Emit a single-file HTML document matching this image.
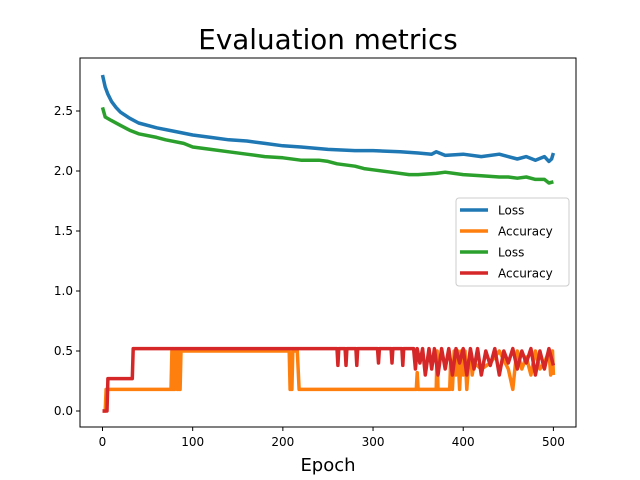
<!DOCTYPE html>
<html><head><meta charset="utf-8"><style>
body{margin:0;background:#fff}
svg{display:block;font-family:"DejaVu Sans","Liberation Sans",sans-serif}
</style></head><body>
<svg id="chart" width="640" height="480">
<rect width="640" height="480" fill="#fff"/>
<text x="328" y="49" font-size="27.8" text-anchor="middle">Evaluation metrics</text>
<g id="plot"></g>
<rect x="80" y="58" width="496" height="369" fill="none" stroke="#000" stroke-width="1"/>
<g id="axes" font-size="12"></g>
<text x="328" y="471" font-size="18" text-anchor="middle">Epoch</text>
<g id="legend">
<rect x="456" y="198" width="113" height="88" rx="3" fill="#fff" fill-opacity="0.8" stroke="#ccc"/>
</g>
</svg>
<script>
const xTicks=[0,100,200,300,400,500];
const yTicks=[0,0.5,1.0,1.5,2.0,2.5];
const yTickLabels=["0.0","0.5","1.0","1.5","2.0","2.5"];
const seriesNames=["Loss","Accuracy","Loss","Accuracy"];
const seriesColors=["#1f77b4","#ff7f0e","#2ca02c","#d62728"];
const lossAEpochs=[0,3,6,10,15,20,30,40,60,80,100,120,140,160,180,200,220,250,280,300,330,350,365,370,380,400,420,440,460,470,480,490,495,498,500];
const lossAValues=[2.8,2.7,2.64,2.58,2.53,2.49,2.44,2.4,2.36,2.33,2.3,2.28,2.26,2.25,2.23,2.21,2.2,2.18,2.17,2.17,2.16,2.15,2.14,2.16,2.13,2.14,2.12,2.14,2.1,2.12,2.09,2.12,2.08,2.1,2.15];
const lossBEpochs=[0,3,10,20,30,40,60,70,90,100,120,140,160,180,200,220,240,250,260,280,290,300,320,340,350,370,380,400,420,440,450,460,470,480,490,495,500];
const lossBValues=[2.53,2.45,2.42,2.38,2.34,2.31,2.28,2.26,2.23,2.2,2.18,2.16,2.14,2.12,2.11,2.09,2.09,2.08,2.06,2.04,2.02,2.01,1.99,1.97,1.97,1.98,1.99,1.97,1.96,1.95,1.95,1.94,1.95,1.93,1.93,1.9,1.91];
const accAEpochs=[0,3,4,76,77,78,79,80,81,82,83,84,85,86,87,88,207,208,210,211,216,218,348,349,350,351,370,371,372,380,385,386,388,390,392,394,396,398,400,402,404,406,408,410,412,420,430,440,450,455,458,460,465,470,475,480,485,490,495,497,499,500];
const accAValues=[0,0,0.18,0.18,0.5,0.18,0.5,0.18,0.5,0.5,0.18,0.5,0.18,0.18,0.5,0.5,0.5,0.18,0.18,0.5,0.5,0.18,0.18,0.32,0.18,0.18,0.18,0.5,0.18,0.18,0.18,0.4,0.18,0.5,0.3,0.5,0.18,0.5,0.3,0.5,0.18,0.4,0.5,0.3,0.4,0.35,0.4,0.5,0.35,0.18,0.4,0.5,0.35,0.45,0.3,0.5,0.35,0.4,0.5,0.3,0.5,0.3];
const accBEpochs=[0,5,6,33,34,260,261,262,269,270,271,281,282,283,305,306,307,320,321,322,332,333,334,345,347,349,352,355,358,362,365,368,372,376,380,384,388,392,396,400,404,408,412,416,420,425,430,435,440,445,450,455,460,465,470,475,480,485,490,495,500];
const accBValues=[0,0,0.27,0.27,0.52,0.52,0.38,0.52,0.52,0.38,0.52,0.52,0.38,0.52,0.52,0.4,0.52,0.52,0.4,0.52,0.52,0.38,0.52,0.52,0.35,0.52,0.4,0.52,0.3,0.52,0.35,0.52,0.3,0.52,0.35,0.52,0.3,0.52,0.4,0.52,0.3,0.52,0.35,0.52,0.3,0.5,0.38,0.52,0.3,0.5,0.4,0.52,0.35,0.5,0.4,0.52,0.3,0.5,0.35,0.52,0.38];
const x=e=>102.5+e*0.9018;
const y=v=>411-v*120;
const NS="http://www.w3.org/2000/svg";
const plot=document.getElementById('plot');
const series=[[lossAEpochs,lossAValues],[accAEpochs,accAValues],[lossBEpochs,lossBValues],[accBEpochs,accBValues]];
const sNames=["loss-line-1","accuracy-line-1","loss-line-2","accuracy-line-2"];
series.forEach((s,i)=>{
  const p=document.createElementNS(NS,'polyline');
  p.setAttribute('points',s[0].map((e,j)=>x(e).toFixed(1)+','+y(s[1][j]).toFixed(1)).join(' '));
  p.setAttribute('fill','none');p.setAttribute('stroke',seriesColors[i]);
  p.setAttribute('stroke-width','3.5');p.setAttribute('stroke-linejoin','round');
  
  
  plot.appendChild(p);
});
const axes=document.getElementById('axes');
xTicks.forEach(t=>{
  const l=document.createElementNS(NS,'line');
  l.setAttribute('x1',x(t));l.setAttribute('x2',x(t));l.setAttribute('y1',427);l.setAttribute('y2',431);l.setAttribute('stroke','#000');
  
  
  axes.appendChild(l);
  const tx=document.createElementNS(NS,'text');
  tx.setAttribute('x',x(t));tx.setAttribute('y',446);tx.setAttribute('text-anchor','middle');tx.textContent=t;
  
  
  axes.appendChild(tx);
});
yTicks.forEach((t,i)=>{
  const l=document.createElementNS(NS,'line');
  l.setAttribute('x1',76);l.setAttribute('x2',80);l.setAttribute('y1',y(t));l.setAttribute('y2',y(t));l.setAttribute('stroke','#000');
  
  
  axes.appendChild(l);
  const tx=document.createElementNS(NS,'text');
  tx.setAttribute('x',73);tx.setAttribute('y',y(t)+4);tx.setAttribute('text-anchor','end');tx.textContent=yTickLabels[i];
  
  
  axes.appendChild(tx);
});
const legend=document.getElementById('legend');
seriesNames.forEach((n,i)=>{
  const yy=210+i*21;
  const l=document.createElementNS(NS,'line');
  l.setAttribute('x1',460);l.setAttribute('x2',488);l.setAttribute('y1',yy);l.setAttribute('y2',yy);
  l.setAttribute('stroke',seriesColors[i]);l.setAttribute('stroke-width','3.5');
  
  
  legend.appendChild(l);
  const t=document.createElementNS(NS,'text');
  t.setAttribute('x',498);t.setAttribute('y',yy+4.5);t.setAttribute('font-size','12');t.textContent=n;
  
  
  legend.appendChild(t);
});
</script>
</body></html>
